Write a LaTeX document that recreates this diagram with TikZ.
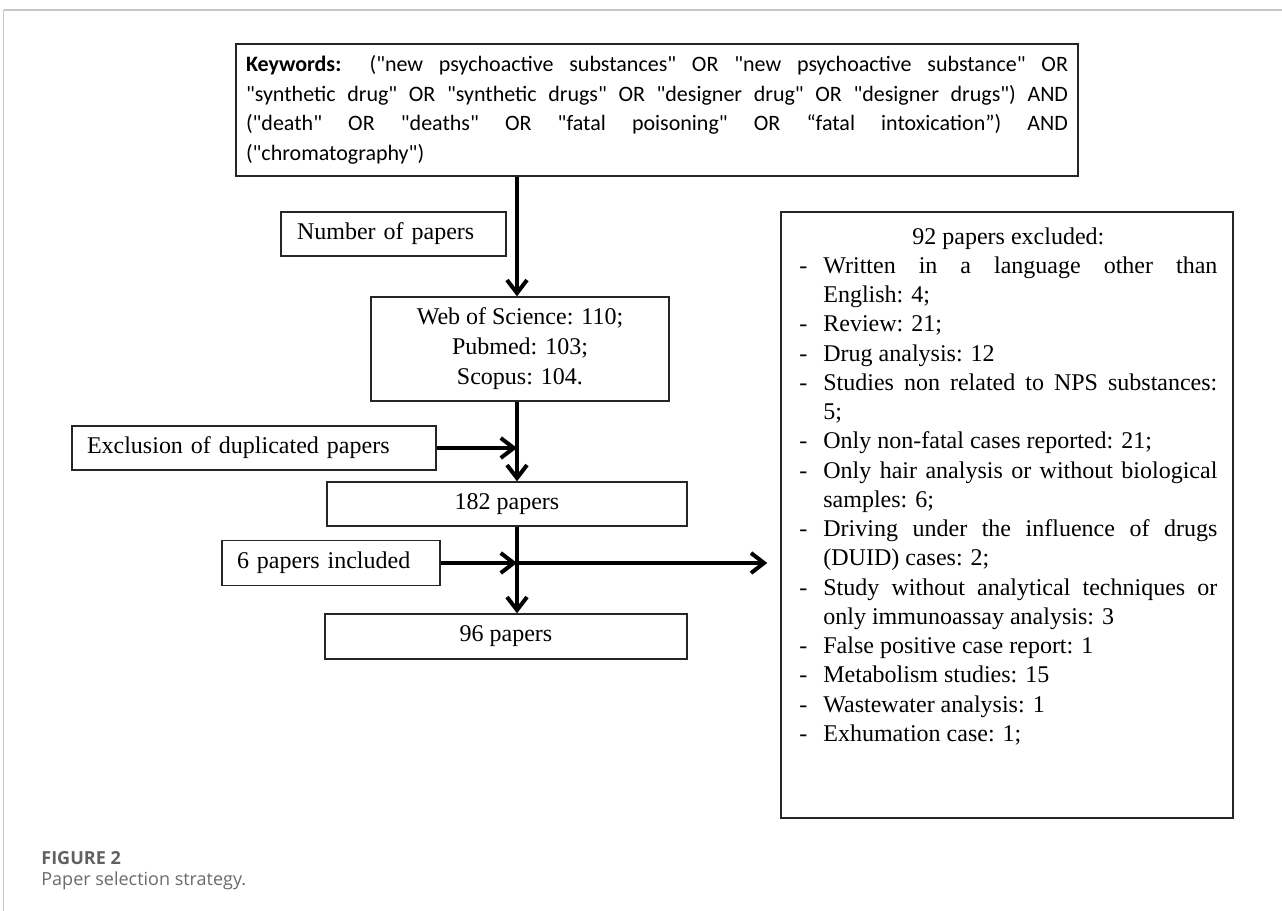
\documentclass[tikz,border=0pt]{standalone}
\usepackage{fontspec}
\setmainfont{Liberation Serif}
\newfontfamily\calib{Carlito}
\newfontfamily\capfont{Open Sans}
\usetikzlibrary{arrows.meta}
\newcommand\xitem[1]{\noindent\hangindent=12pt\hangafter=1\makebox[12pt][l]{-}#1\par}
\begin{document}
\begin{tikzpicture}[x=0.5pt,y=-0.5pt,
  box/.style={draw=black!85, line width=0.7pt, inner ysep=0pt, font=\fontsize{12}{15}\selectfont},
  flow/.style={line width=2pt, -{Straight Barb[length=6.5pt,width=10pt]}},
  framel/.style={draw=gray!45, line width=0.8pt},
  captxt/.style={anchor=west, inner sep=0pt, font=\capfont\fontsize{9}{11}\selectfont, text=black!58},
]
\useasboundingbox (0,0) rectangle (1282,911);
\fill[white] (0,0) rectangle (1282,911);
\draw[framel, line width=1pt] (3.5,9.5) -- (1282,9.5);
\draw[framel, line width=0.5pt] (3.5,9.5) -- (3.5,911);

% keyword box
\node[box, minimum width=421pt, minimum height=66pt, text width=411pt, inner xsep=5pt, align=justify,
      font=\calib\fontsize{11}{14.75}\selectfont] (kw) at (657,110)
  {\tolerance=10000\hbadness=10000\textbf{Keywords:} ("new psychoactive substances" OR "new psychoactive substance" OR\linebreak
   "synthetic drug" OR "synthetic drugs" OR "designer drug" OR "designer drugs") AND\linebreak
   ("death" OR "deaths" OR "fatal poisoning" OR “fatal intoxication”) AND\linebreak
   ("chromatography")};

\node[box, minimum width=112.5pt, minimum height=22pt, text width=96.5pt, inner xsep=8pt, align=left] (num) at (393.5,234) {Number of papers};

\node[box, minimum width=149pt, minimum height=52pt, align=center] (web) at (520,349)
  {Web of Science: 110;\\ Pubmed: 103;\\ Scopus: 104.};

\node[box, minimum width=182pt, minimum height=22pt, text width=167pt, inner xsep=7.5pt, align=left] (dup) at (254,448) {Exclusion of duplicated papers};

\node[box, minimum width=180pt, minimum height=22pt] (p182) at (507,504) {182 papers};

\node[box, minimum width=109pt, minimum height=22.5pt, text width=94pt, inner xsep=7.5pt, align=left] (inc) at (331,563) {6 papers included};

\node[box, minimum width=181pt, minimum height=22.5pt] (p96) at (506,636.5) {96 papers};

\node[box, minimum width=226pt, minimum height=303pt] (excl) at (1007,515) {};

\node[anchor=base west, inner sep=0pt, text width=209pt, align=justify,
      font=\fontsize{12}{14.625}\selectfont] (excltext) at (799,244)
  {\tolerance=10000\hbadness=10000\parindent=0pt\parskip=0pt
   {\centering 92 papers excluded:\par}
   \xitem{Written in a language other than\linebreak English: 4;}
   \xitem{Review: 21;}
   \xitem{Drug analysis: 12}
   \xitem{Studies non related to NPS substances:\linebreak 5;}
   \xitem{Only non-fatal cases reported: 21;}
   \xitem{Only hair analysis or without biological\linebreak samples: 6;}
   \xitem{Driving under the influence of drugs\linebreak (DUID) cases: 2;}
   \xitem{Study without analytical techniques or\linebreak only immunoassay analysis: 3}
   \xitem{False positive case report: 1}
   \xitem{Metabolism studies: 15}
   \xitem{Wastewater analysis: 1}
   \xitem{Exhumation case: 1;}};

\coordinate (ax) at (517,0);
\draw[flow] (kw.south -| ax) -- (web.north -| ax);
\draw[flow] (web.south -| ax) -- (p182.north -| ax);
\draw[flow] (dup.east) -- (dup.east -| ax);
\draw[flow] (p182.south -| ax) -- (p96.north -| ax);
\draw[flow] (inc.east) -- (inc.east -| ax);
\draw[flow, shorten >=6.5pt] (inc.east -| ax) -- (inc.east -| excl.west);

\node[captxt, font=\capfont\bfseries\fontsize{9}{11}\selectfont, text=black!62] (figlab) at (41,858) {FIGURE 2};
\node[captxt] (figcap) at (41,881) {Paper selection strategy.};
\end{tikzpicture}
\end{document}
